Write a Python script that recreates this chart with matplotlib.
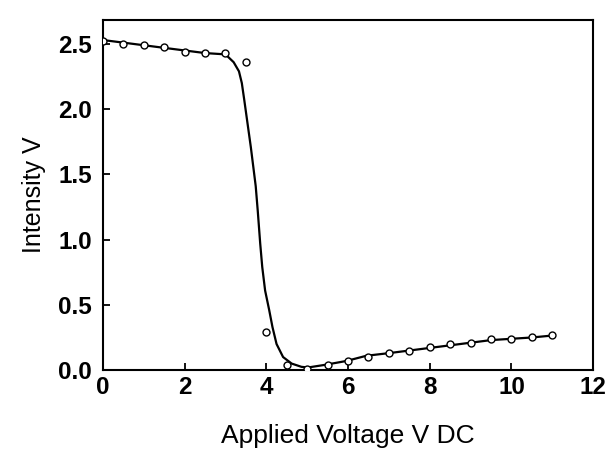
import matplotlib
matplotlib.use("Agg")
import matplotlib.pyplot as plt

# measured data points
volt = [0, 0.5, 1, 1.5, 2, 2.5, 3, 3.5, 4, 4.5, 5, 5.5, 6, 6.5, 7, 7.5, 8, 8.5, 9, 9.5, 10, 10.5, 11]
inten = [2.52, 2.50, 2.49, 2.48, 2.44, 2.43, 2.43, 2.36, 0.29, 0.04, 0.01, 0.04, 0.07, 0.10, 0.13,
         0.15, 0.18, 0.20, 0.21, 0.24, 0.24, 0.25, 0.27]

fit_x = [0, 0.5, 1, 1.5, 2, 2.5, 3, 3.2, 3.33, 3.40, 3.46, 3.54, 3.62, 3.68, 3.74, 3.79, 3.85,
         3.90, 3.97, 4.07, 4.15, 4.25, 4.41, 4.62, 4.86, 5.02, 5.43, 5.96, 6.45, 7, 7.5, 8, 8.5,
         9, 9.5, 10, 10.5, 11]
fit_y = [2.53, 2.51, 2.49, 2.47, 2.45, 2.43, 2.42, 2.36, 2.29, 2.20, 2.07, 1.89, 1.71, 1.56, 1.41,
         1.22, 0.97, 0.79, 0.61, 0.46, 0.33, 0.20, 0.10, 0.05, 0.025, 0.02, 0.04, 0.07, 0.11,
         0.13, 0.15, 0.17, 0.19, 0.21, 0.23, 0.24, 0.25, 0.265]

xticks = [0, 2, 4, 6, 8, 10, 12]
yticks = [0.0, 0.5, 1.0, 1.5, 2.0, 2.5]

plt.rcParams['font.family'] = ['Liberation Sans', 'DejaVu Sans']

fig = plt.figure(figsize=(6.09, 4.53), dpi=100)
ax = fig.add_axes([0.169, 0.183, 0.805, 0.773])

ax.plot(fit_x, fit_y, color='black', lw=1.6, zorder=2)
ax.plot(volt, inten, linestyle='none', marker='o', ms=5, mfc='white', mec='black',
        mew=1.0, zorder=3)

ax.set_xlim(0, 12)
ax.set_ylim(0, 2.684)
ax.set_xticks(xticks)
ax.set_xticklabels([str(t) for t in xticks])
ax.set_yticks(yticks)
ax.set_yticklabels([f"{t:.1f}" for t in yticks])

ax.tick_params(direction='in', length=5, width=1.3, top=False, right=False,
               labelsize=17.5)
ax.tick_params(axis='x', pad=4)
ax.tick_params(axis='y', pad=8)
for lab in ax.get_xticklabels() + ax.get_yticklabels():
    lab.set_fontweight('bold')
for s in ax.spines.values():
    s.set_linewidth(1.5)

ax.set_xlabel('Applied Voltage V DC', fontsize=19, labelpad=18)
ax.set_ylabel('Intensity V', fontsize=18, labelpad=9)

fig.savefig('out.png', dpi=100)
